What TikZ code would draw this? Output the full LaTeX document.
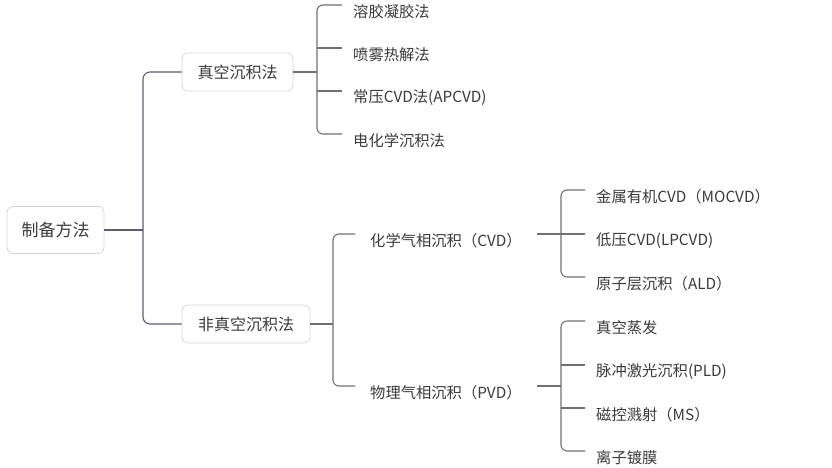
\documentclass[tikz,border=0pt]{standalone}
\usepackage{fontspec}
\setmainfont{Noto Sans CJK SC}
\usetikzlibrary{calc}
\definecolor{txt}{HTML}{3A3A3A}
\definecolor{mainln}{HTML}{5C5C78}
\definecolor{subln}{HTML}{707070}
\definecolor{bxln}{HTML}{D4D4D4}
\tikzset{
  conn/.style={draw=mainln, line width=1.1pt},
  subconn/.style={draw=subln, line width=1.1pt},
  box/.style={draw=bxln, line width=0.8pt, rounded corners=6pt, text=txt, inner sep=0pt, font=\fontsize{16}{19}\selectfont},
  leaf/.style={anchor=west, inner sep=0pt, text=txt, font=\fontsize{15.3}{18}\selectfont},
}
\begin{document}
\begin{tikzpicture}[x=1pt,y=-1pt]
\useasboundingbox (0,0) rectangle (832,467);
% boxes
\node[box, minimum width=97pt, minimum height=47pt, font=\fontsize{17}{20}\selectfont] (root) at (55.5,230) {制备方法};
\node[box, minimum width=111pt, minimum height=38pt] (vac) at (237.5,72) {真空沉积法};
\node[box, minimum width=128pt, minimum height=38pt] (nvac) at (246,324) {非真空沉积法};
% leaves of vacuum
\node[leaf] (a1) at (353,12) {溶胶凝胶法};
\node[leaf] (a2) at (353,55) {喷雾热解法};
\node[leaf] (a3) at (353,98) {常压CVD法(APCVD)};
\node[leaf] (a4) at (353,141) {电化学沉积法};
% non-vacuum
\node[leaf] (cvd) at (370,241) {化学气相沉积（CVD）};
\node[leaf] (pvd) at (370,393) {物理气相沉积（PVD）};
\node[leaf] (c1) at (596,197) {金属有机CVD（MOCVD）};
\node[leaf] (c2) at (596,241) {低压CVD(LPCVD)};
\node[leaf] (c3) at (596,284) {原子层沉积（ALD）};
\node[leaf] (p1) at (596,328) {真空蒸发};
\node[leaf] (p2) at (596,372) {脉冲激光沉积(PLD)};
\node[leaf] (p3) at (596,415) {磁控溅射（MS）};
\node[leaf] (p4) at (596,458) {离子镀膜};
% branch end points
\foreach \n in {a1,a2,a3,a4,c1,c2,c3,p1,p2,p3,p4}{
  \coordinate (\n e) at ($(\n.west)+(-11,-7)$);
}
\coordinate (cvde) at ($(cvd.west)+(-15,-7)$);
\coordinate (pvde) at ($(pvd.west)+(-15,-7)$);
\coordinate (cvdo) at ($(cvd.west)+(167,-7)$);
\coordinate (pvdo) at ($(pvd.west)+(167,-7)$);
% root connectors
\draw[conn] (root.east) -- (143,230);
\draw[conn, rounded corners=7pt] (vac.west) -| (143,230) |- (nvac.west);
% vacuum connectors
\draw[subconn] (vac.east) -- (317,72);
\draw[subconn, rounded corners=6pt] (a1e) -| (317,72) |- (a4e);
\draw[subconn] (317,0 |- a2e) -- (a2e);
\draw[subconn] (317,0 |- a3e) -- (a3e);
% non-vacuum connectors
\draw[subconn] (nvac.east) -- (333,324);
\draw[subconn, rounded corners=6pt] (cvde) -| (333,324) |- (pvde);
% CVD
\draw[subconn] (cvdo) -- (561,0 |- cvdo);
\draw[subconn, rounded corners=6pt] (c1e) -| (561,0 |- cvdo) |- (c3e);
\draw[subconn] (561,0 |- c2e) -- (c2e);
% PVD
\draw[subconn] (pvdo) -- (561,0 |- pvdo);
\draw[subconn, rounded corners=6pt] (p1e) -| (561,0 |- pvdo) |- (p4e);
\draw[subconn] (561,0 |- p2e) -- (p2e);
\draw[subconn] (561,0 |- p3e) -- (p3e);
\end{tikzpicture}
\end{document}
